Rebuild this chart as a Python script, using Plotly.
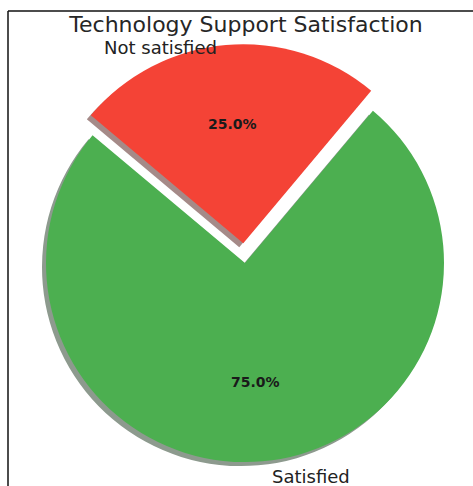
import math
import plotly.graph_objects as go

labels = ["Satisfied", "Not satisfied"]
values = [75, 25]
colors = ["#4CAF50", "#F44336"]
shadow_colors = ["#8d9a8e", "#a58a88"]
pulls = [0, 0.1]
title = "Technology Support Satisfaction"

W, H = 473, 486
# pie geometry in pixels
r = 199
size = 2 * r * 1.1
cx = 245
bottom = 482
cy = bottom - size / 2
sh = 4  # shadow offset in px
start_angle = 140  # degrees, counterclockwise from 3 o'clock
pct_dist = 0.6

def dom(x0px, ybottom_px):
    x = [x0px / W, (x0px + size) / W]
    y = [1 - ybottom_px / H, 1 - (ybottom_px - size) / H]
    return dict(x=x, y=y)

rotation = 90 - start_angle - 360 * values[0] / sum(values) + 360

fig = go.Figure()
fig.add_trace(go.Pie(
    labels=labels, values=values, sort=False, direction="counterclockwise",
    rotation=rotation, pull=pulls,
    marker=dict(colors=shadow_colors, line=dict(width=0)),
    textinfo="none", hoverinfo="skip", showlegend=False,
    domain=dom(cx - size / 2 - sh, bottom + sh),
))
fig.add_trace(go.Pie(
    labels=labels, values=values, sort=False, direction="counterclockwise",
    rotation=rotation, pull=pulls,
    marker=dict(colors=colors, line=dict(width=0)),
    textinfo="none", hoverinfo="label+percent",
    showlegend=False,
    domain=dom(cx - size / 2, bottom),
))

# percentage labels placed like matplotlib autopct (pctdistance 0.6)
total = sum(values)
annotations = []
cum = 0
for lab, v, p in zip(labels, values, pulls):
    mid = math.radians(start_angle + (cum + v / 2) / total * 360)
    cum += v
    dist = (p + pct_dist) * r
    px = cx + dist * math.cos(mid)
    py = cy - dist * math.sin(mid)
    annotations.append(dict(
        text=f"{v / total * 100:.1f}%", xref="paper", yref="paper",
        x=px / W, y=1 - py / H, xanchor="center", yanchor="middle", showarrow=False,
        font=dict(family="DejaVu Sans", size=14, color="#1a1a1a", weight="bold")))

annotations += [
    dict(text=labels[1], xref="paper", yref="paper", x=219 / W, y=1 - 47 / H,
         xanchor="right", yanchor="middle", showarrow=False,
         font=dict(family="DejaVu Sans", size=18, color="#222")),
    dict(text=labels[0], xref="paper", yref="paper", x=270 / W, y=1 - 476 / H,
         xanchor="left", yanchor="middle", showarrow=False,
         font=dict(family="DejaVu Sans", size=18, color="#222")),
]

fig.update_layout(
    width=W, height=H,
    margin=dict(l=0, r=0, t=0, b=0),
    paper_bgcolor="white", plot_bgcolor="white",
    title=dict(text=title, x=246 / W, xanchor="center", y=1 - 24 / H, yanchor="middle",
               font=dict(family="DejaVu Sans", size=22, color="#262626")),
    annotations=annotations,
    shapes=[
        dict(type="line", xref="paper", yref="paper", x0=8 / W, x1=8 / W, y0=0, y1=1 - 11 / H,
             line=dict(color="#111", width=1.5)),
        dict(type="line", xref="paper", yref="paper", x0=8 / W, x1=1, y0=1 - 11 / H, y1=1 - 11 / H,
             line=dict(color="#111", width=1.5)),
    ],
)
fig.write_html("out.html")
